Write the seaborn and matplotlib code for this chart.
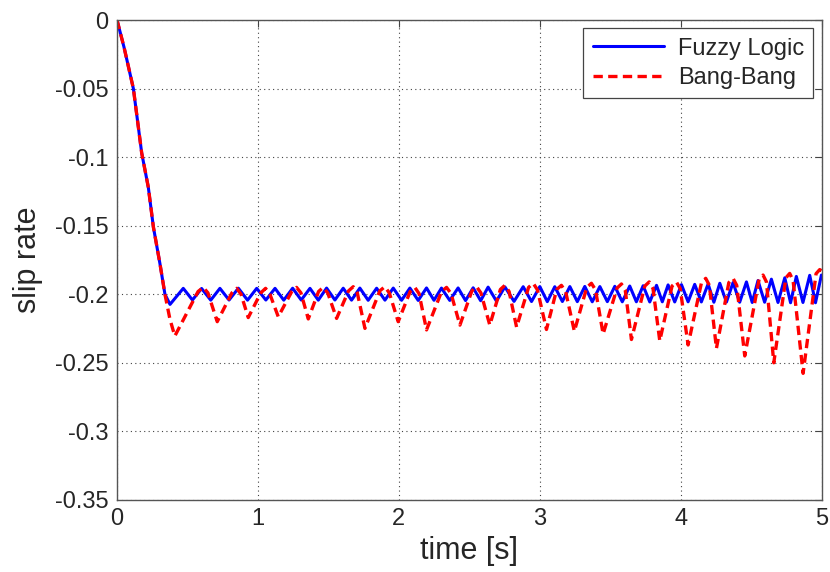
import matplotlib
matplotlib.use("Agg")
import matplotlib.pyplot as plt
import seaborn as sns
import pandas as pd

# shared start: both controllers follow the same drop
ramp_t = [0.0, 0.05, 0.116, 0.175, 0.222, 0.258, 0.305, 0.34]
ramp_y = [0.0, -0.020, -0.050, -0.097, -0.122, -0.151, -0.178, -0.200]

# Fuzzy Logic: first dip then small ripple around -0.2
fuzzy_first_t = 0.376
fuzzy_first_y = -0.2074
fuzzy_peak_t = [0.470, 0.600, 0.730, 0.861, 0.991, 1.121, 1.246, 1.369, 1.487, 1.605,
                1.723, 1.842, 1.960, 2.078, 2.196, 2.302, 2.420, 2.527, 2.633, 2.752,
                2.882, 3.000, 3.106, 3.213, 3.319, 3.426, 3.532, 3.638, 3.733, 3.828,
                3.910, 4.005, 4.099, 4.194, 4.277, 4.371, 4.466, 4.548, 4.643, 4.738,
                4.820, 4.915, 4.998]
fuzzy_peak_y = [-0.1957, -0.1958, -0.1957, -0.1956, -0.1957, -0.1957, -0.1956, -0.1957, -0.1955, -0.1956,
                -0.1955, -0.1956, -0.1955, -0.1955, -0.1954, -0.1955, -0.1954, -0.1953, -0.1948, -0.1946,
                -0.1945, -0.1944, -0.1945, -0.1944, -0.1943, -0.1944, -0.1942, -0.1940, -0.1938, -0.1935,
                -0.1932, -0.1930, -0.1928, -0.1925, -0.1920, -0.1915, -0.1910, -0.1900, -0.1890, -0.1880,
                -0.1870, -0.1862, -0.1860]
fuzzy_trough_t = [0.535, 0.665, 0.795, 0.926, 1.056, 1.183, 1.307, 1.428, 1.546, 1.664,
                  1.782, 1.901, 2.019, 2.137, 2.249, 2.361, 2.473, 2.580, 2.692, 2.817,
                  2.941, 3.053, 3.160, 3.266, 3.372, 3.479, 3.585, 3.685, 3.780, 3.869,
                  3.957, 4.052, 4.146, 4.235, 4.324, 4.418, 4.507, 4.595, 4.690, 4.779,
                  4.867, 4.956]
fuzzy_trough_y = [-0.2042, -0.2043, -0.2042, -0.2043, -0.2042, -0.2043, -0.2042, -0.2043, -0.2042, -0.2043,
                  -0.2044, -0.2043, -0.2044, -0.2045, -0.2044, -0.2045, -0.2046, -0.2047, -0.2050, -0.2052,
                  -0.2053, -0.2054, -0.2053, -0.2054, -0.2055, -0.2054, -0.2055, -0.2055, -0.2056, -0.2055,
                  -0.2056, -0.2055, -0.2056, -0.2058, -0.2057, -0.2058, -0.2060, -0.2058, -0.2060, -0.2062,
                  -0.2060, -0.2062]

# Bang-Bang: deeper dips that grow over time (peaks read with their shoulders)
bang_t = [0.375, 0.410, 0.575, 0.612, 0.645, 0.711, 0.815, 0.849, 0.880, 0.931,
          1.020, 1.054, 1.085, 1.144, 1.240, 1.274, 1.305, 1.357, 1.430, 1.463,
          1.495, 1.558, 1.643, 1.676, 1.705, 1.759, 1.865, 1.900, 1.932, 1.995,
          2.080, 2.113, 2.143, 2.196, 2.303, 2.338, 2.370, 2.433, 2.518, 2.551,
          2.582, 2.645, 2.720, 2.752, 2.782, 2.835, 2.920, 2.953, 2.983, 3.047,
          3.120, 3.153, 3.183, 3.245, 3.333, 3.366, 3.395, 3.449, 3.548, 3.579,
          3.606, 3.650, 3.745, 3.776, 3.803, 3.851, 3.938, 3.969, 3.996, 4.052,
          4.147, 4.177, 4.203, 4.253, 4.341, 4.371, 4.397, 4.454, 4.556, 4.584,
          4.608, 4.660, 4.746, 4.773, 4.797, 4.868, 4.960, 4.986, 5.000]
bang_y = [-0.2180, -0.2305, -0.1980, -0.1950, -0.1990, -0.2200, -0.1990, -0.1957, -0.2000, -0.2170,
          -0.1990, -0.1957, -0.2000, -0.2164, -0.1980, -0.1950, -0.1990, -0.2180, -0.1980, -0.1950,
          -0.1990, -0.2176, -0.1975, -0.1945, -0.1990, -0.2249, -0.1975, -0.1945, -0.1990, -0.2200,
          -0.1980, -0.1950, -0.1995, -0.2260, -0.1980, -0.1950, -0.1995, -0.2225, -0.1975, -0.1945,
          -0.1990, -0.2225, -0.1965, -0.1935, -0.1980, -0.2240, -0.1950, -0.1920, -0.1968, -0.2257,
          -0.1965, -0.1935, -0.1980, -0.2270, -0.1950, -0.1920, -0.1968, -0.2290, -0.1955, -0.1925,
          -0.1970, -0.2330, -0.1940, -0.1910, -0.1958, -0.2340, -0.1940, -0.1910, -0.1958, -0.2370,
          -0.1915, -0.1884, -0.1935, -0.2395, -0.1915, -0.1884, -0.1935, -0.2450, -0.1890, -0.1860,
          -0.1910, -0.2500, -0.1880, -0.1848, -0.1900, -0.2577, -0.1850, -0.1820, -0.1830]

x_ticks = [0, 1, 2, 3, 4, 5]
y_ticks = [-0.35, -0.3, -0.25, -0.2, -0.15, -0.1, -0.05, 0]
y_tick_labels = ['-0.35', '-0.3', '-0.25', '-0.2', '-0.15', '-0.1', '-0.05', '0']

# stitch the series together
ft = ramp_t + [fuzzy_first_t]
fy = ramp_y + [fuzzy_first_y]
for i in range(len(fuzzy_peak_t)):
    ft.append(fuzzy_peak_t[i])
    fy.append(fuzzy_peak_y[i])
    if i < len(fuzzy_trough_t):
        ft.append(fuzzy_trough_t[i])
        fy.append(fuzzy_trough_y[i])
fuzzy = pd.DataFrame({'time': ft, 'slip': fy})
bang = pd.DataFrame({'time': ramp_t + bang_t, 'slip': ramp_y + bang_y})

sns.set_style('white')
plt.rcParams['font.family'] = ['Liberation Sans', 'DejaVu Sans']

fig = plt.figure(figsize=(8.3, 5.72), dpi=100)
ax = fig.add_axes([0.141, 0.126, 0.849, 0.839])

sns.lineplot(data=fuzzy, x='time', y='slip', color='#0000ff', linewidth=2.2,
             estimator=None, sort=False, label='Fuzzy Logic', ax=ax)
sns.lineplot(data=bang, x='time', y='slip', color='#ff0000', linewidth=2.4,
             dashes=False, linestyle=(0, (2.8, 1.6)),
             estimator=None, sort=False, label='Bang-Bang', ax=ax)

ax.set_xlim(0, 5)
ax.set_ylim(-0.35, 0)
ax.set_xticks(x_ticks)
ax.set_xticklabels([str(v) for v in x_ticks])
ax.set_yticks(y_ticks)
ax.set_yticklabels(y_tick_labels)
ax.grid(True, color='#444444', linestyle=(0, (1, 3)), linewidth=0.8)
ax.tick_params(direction='in', length=5, width=0.8, top=True, right=True,
               labelsize=17, pad=6, color='#444444')
for s in ax.spines.values():
    s.set_color('#555555')
    s.set_linewidth(1.0)

ax.set_xlabel('time [s]', fontsize=22, labelpad=4)
ax.set_ylabel('slip rate', fontsize=22, labelpad=9)

leg = ax.legend(loc='upper right', fontsize=17, fancybox=False, framealpha=1,
                edgecolor='#444444', handlelength=3.0, borderpad=0.4,
                labelspacing=0.3, handletextpad=0.6, borderaxespad=0.35)
leg.get_frame().set_linewidth(0.9)

fig.savefig('out.png', dpi=100)
